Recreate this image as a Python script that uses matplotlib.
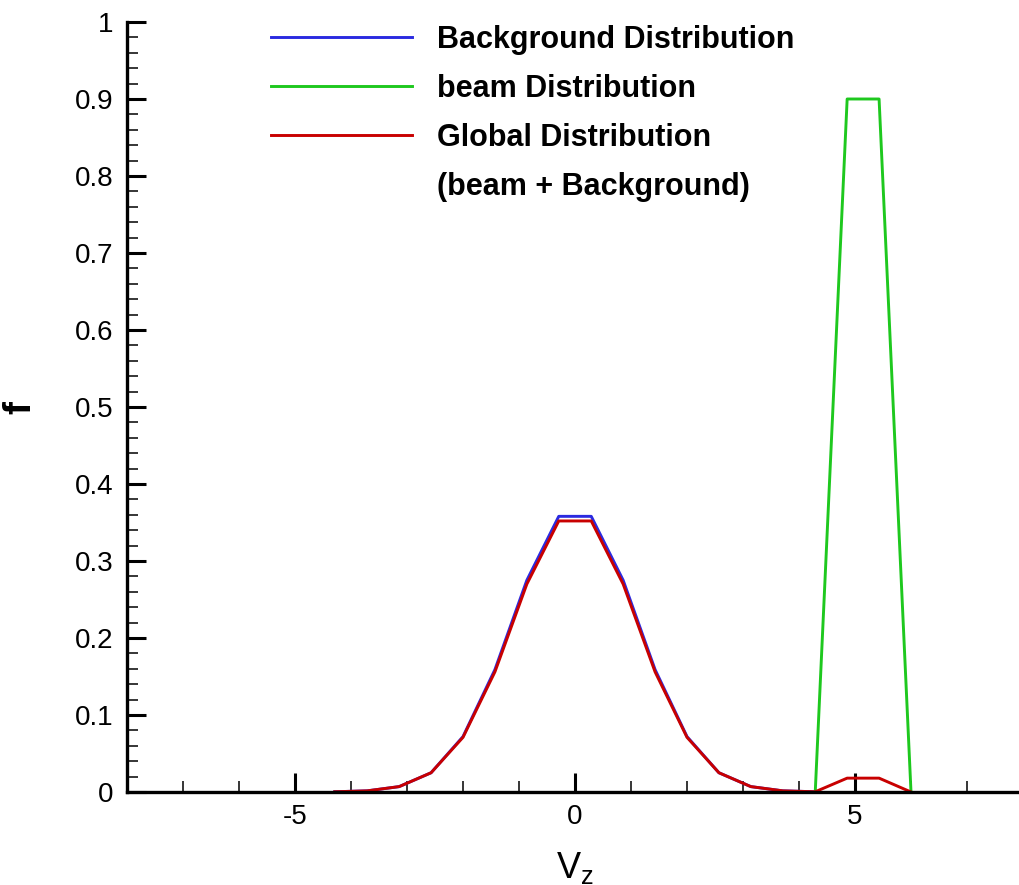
import matplotlib
matplotlib.use("Agg")
import matplotlib.pyplot as plt
from matplotlib.ticker import MultipleLocator, FixedLocator
from matplotlib.lines import Line2D

plt.rcParams['font.family'] = ['Liberation Sans', 'DejaVu Sans']
plt.rcParams['axes.unicode_minus'] = False

nan = float('nan')

# velocity grid (cell centres)
vz = [-7.71, -7.14, -6.57, -6.00, -5.43, -4.86, -4.29, -3.71, -3.14, -2.57,
      -2.00, -1.43, -0.86, -0.29, 0.29, 0.86, 1.43, 2.00, 2.57, 3.14,
      3.71, 4.29, 4.86, 5.43, 6.00, 6.57, 7.14, 7.71]

# NaN = portion lying on the axis line (not visible in the figure)
background = [nan, nan, nan, nan, nan, nan, 0.0003, 0.0015, 0.007, 0.025,
              0.072, 0.159, 0.275, 0.358, 0.358, 0.275, 0.159, 0.072, 0.025, 0.007,
              0.0015, 0.0003, nan, nan, nan, nan, nan, nan]

beam = [nan, nan, nan, nan, nan, nan, nan, nan, nan, nan,
        nan, nan, nan, nan, nan, nan, nan, nan, nan, nan,
        nan, 0, 0.9, 0.9, 0, nan, nan, nan]

global_dist = [nan, nan, nan, nan, nan, nan, 0.0003, 0.0015, 0.007, 0.025,
               0.071, 0.156, 0.270, 0.352, 0.352, 0.270, 0.156, 0.071, 0.025, 0.007,
               0.0015, 0.0003, 0.018, 0.018, 0, nan, nan, nan]

labels = ["Background Distribution", "beam Distribution",
          "Global Distribution", "(beam + Background)"]
colors = ["#2a2ae0", "#1ec81e", "#c80000"]

W, H = 1019, 885
fig = plt.figure(figsize=(W / 100, H / 100), dpi=100)
x0, x1 = 127, 1023
y0, y1 = 792, 22
ax = fig.add_axes([x0 / W, (H - y0) / H, (x1 - x0) / W, (y0 - y1) / H])

lw = 2.1
l1, = ax.plot(vz, background, color=colors[0], lw=lw, zorder=2)
l2, = ax.plot(vz, beam, color=colors[1], lw=lw, zorder=2)
l3, = ax.plot(vz, global_dist, color=colors[2], lw=lw, zorder=2)

ax.set_xlim(-8, 8)
ax.set_ylim(0, 1)

for s in ['top', 'right']:
    ax.spines[s].set_visible(False)
for s in ['left', 'bottom']:
    ax.spines[s].set_linewidth(2.4)
    ax.spines[s].set_zorder(3)

ax.xaxis.set_major_locator(FixedLocator([-5, 0, 5]))
ax.xaxis.set_minor_locator(MultipleLocator(1))
ax.yaxis.set_minor_locator(MultipleLocator(0.02))
ax.set_yticks([0, 0.1, 0.2, 0.3, 0.4, 0.5, 0.6, 0.7, 0.8, 0.9, 1.0])
ax.set_yticklabels(["0", "0.1", "0.2", "0.3", "0.4", "0.5", "0.6", "0.7", "0.8", "0.9", "1"])

ax.tick_params(which='major', direction='in', length=14, width=2.2, labelsize=20, pad=9)
ax.tick_params(which='minor', direction='in', length=8, width=1.1)
ax.tick_params(axis='y', which='major', pad=10)

ax.set_xlabel("V$_{\\mathregular{z}}$", fontsize=26, labelpad=14)
ax.set_ylabel("f", fontsize=28, fontweight='bold', labelpad=26)

blank = Line2D([], [], color='none')
leg = ax.legend([l1, l2, l3, blank], labels, loc='upper left',
                bbox_to_anchor=(271 / W, 1 - 25 / H), bbox_transform=fig.transFigure,
                frameon=False, borderpad=0, borderaxespad=0,
                handlelength=4.6, handletextpad=0.82, labelspacing=0.62,
                prop={'size': 22, 'weight': 'bold'})
for line in leg.get_lines():
    line.set_linewidth(2.1)

fig.savefig("out.png", dpi=100)
